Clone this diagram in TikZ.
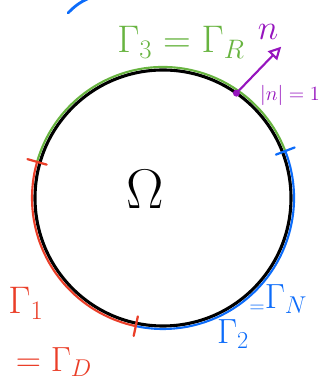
\documentclass[tikz,border=0pt]{standalone}
\usepackage{amsmath, amssymb}
\usepackage{xcolor}
\usepackage{tikz}
\usetikzlibrary{arrows.meta}
\definecolor{verde}{RGB}{104,180,64}
\definecolor{rosso}{RGB}{234,62,40}
\definecolor{blu}{RGB}{12,108,250}
\definecolor{viola}{RGB}{150,20,190}
\tikzset{
    bordo/.style={line width=1.5pt, line cap=round},
    tacca/.style={line width=1.6pt, line cap=round},
    etichetta/.style={font=\fontsize{24}{28}\selectfont, inner sep=0pt}
}

\begin{document}
\begin{tikzpicture}[x=0.025cm, y=0.025cm]
\useasboundingbox (0,0) rectangle (320,385);

\coordinate (O) at (163,187);

% Punti di separazione del bordo
\coordinate (A) at ([shift={(164:131)}]O);
\coordinate (B) at ([shift={(21:131)}]O);
\coordinate (C) at ([shift={(258:131)}]O);

% Dominio
\draw[line width=2.2pt] (O) circle (128);

% Pezzi del bordo
\draw[bordo, verde] (A) arc[start angle=164, end angle=21, radius=131];
\draw[bordo, blu] (B) arc[start angle=21, end angle=-102, radius=131];
\draw[bordo, rosso] (A) arc[start angle=164, end angle=258, radius=131];

% Tacche
\draw[tacca, rosso] ([shift={(164:121)}]O) -- ([shift={(164:141)}]O);
\draw[tacca, blu] ([shift={(21:121)}]O) -- ([shift={(21:141)}]O);
\draw[tacca, rosso] ([shift={(258:121)}]O) -- ([shift={(258:141)}]O);

% Pezzo blu in alto
\draw[bordo, blu, line width=2pt] (68,372) to[bend left=12] (92,388);

% Normale
\coordinate (P) at ([shift={(55:128)}]O);
\coordinate (Q) at ([shift={(52:192)}]O);
\draw[viola, line width=1.5pt, -{Triangle[open, length=9pt, width=9pt]}] (P) -- (Q);
\fill[viola] (P) circle (3.5);

% Etichette
\node[etichetta, scale=1.6] (omega) at (145,196) {$\Omega$};
\node[etichetta, verde, scale=1.1] (gammaR) at (181,343) {$\Gamma_3=\Gamma_R$};
\node[etichetta, viola] (n) at (268,353) {$n$};
\node[viola, font=\Large, inner sep=0pt] (norma) at (290,290) {$|n|=1$};
\node[etichetta, rosso, scale=1.1] (gammaUno) at (26,82) {$\Gamma_1$};
\node[etichetta, rosso] (gammaD) at (54,23) {$=\Gamma_D$};
\node[etichetta, blu] (gammaDue) at (233,51) {$\Gamma_2$};
\node[etichetta, blu, font=\Large] (uguale) at (257,76) {$=$};
\node[etichetta, blu] (gammaN) at (286,86) {$\Gamma_N$};

\end{tikzpicture}
\end{document}
